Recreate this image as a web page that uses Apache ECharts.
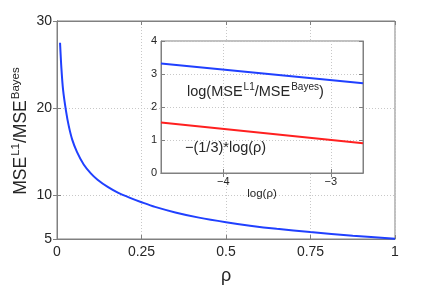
<!DOCTYPE html>
<html>
<head>
<meta charset="utf-8">
<script src="https://cdn.jsdelivr.net/npm/echarts@6/dist/echarts.min.js"></script>
<style>html,body{margin:0;padding:0;background:#fff}#c{width:436px;height:290px}</style>
</head>
<body>
<div id="c"></div>
<script>
// Main curve: rho vs MSE^L1/MSE^Bayes
const rhoValues   = [0.009, 0.013, 0.018, 0.0266, 0.0346, 0.045, 0.059, 0.079, 0.10, 0.12, 0.15, 0.18, 0.216, 0.25, 0.29, 0.35, 0.42, 0.50, 0.571, 0.65, 0.749, 0.875, 1.0];
const ratioValues = [27.5, 24.6, 22.1, 19.7, 18.0, 16.4, 15.0, 13.55, 12.53, 11.8, 10.97, 10.32, 9.72, 9.22, 8.68, 8.05, 7.45, 6.92, 6.53, 6.17, 5.80, 5.38, 5.02];
// Inset: log(rho) vs log ratio and -(1/3)log(rho)
const insetLogRho   = [-4.58, -2.70];
const insetLogRatio = [3.32, 2.72];
const insetRefLine  = [1.53, 0.90];
// Tick labels
const mainXTicks  = [0, 0.25, 0.5, 0.75, 1];
const mainYTicks  = [5, 10, 20, 30];
const insetXTicks = [-4, -3];
const insetYTicks = [0, 1, 2, 3, 4];

const FONT = 'Liberation Sans';
const AX = '#808080';
const TXT = '#262626';
const GRIDC = '#c8c8c8';

const zip = (a, b) => a.map((v, i) => [v, b[i]]);

const chart = echarts.init(document.getElementById('c'), null, {renderer: 'canvas'});
chart.setOption({
  animation: false,
  backgroundColor: '#fff',
  grid: [
    {left: 57, top: 21, right: 41, bottom: 37, show: true, borderColor: AX, borderWidth: 1, backgroundColor: 'transparent', z: 0},
    {left: 161, top: 41, right: 73, bottom: 117, show: true, borderColor: AX, borderWidth: 1, backgroundColor: '#fff', z: 1}
  ],
  xAxis: [
    {type: 'value', gridIndex: 0, min: 0, max: 1, interval: 0.25, position: 'bottom',
     axisLine: {show: true, lineStyle: {color: AX}},
     axisTick: {show: true, inside: true, length: 4, lineStyle: {color: AX}},
     axisLabel: {color: TXT, fontFamily: FONT, fontSize: 14, margin: 6, customValues: mainXTicks,
       formatter: v => String(v)},
     splitLine: {show: true, lineStyle: {type: [1, 2], color: GRIDC}},
     name: 'ρ', nameLocation: 'middle', nameGap: 28, nameTextStyle: {color: TXT, fontFamily: FONT, fontSize: 18}},
    {type: 'value', gridIndex: 0, min: 0, max: 1, interval: 0.25, position: 'top',
     axisLine: {show: true, lineStyle: {color: AX}},
     axisTick: {show: true, inside: true, length: 4, lineStyle: {color: AX}},
     axisLabel: {show: false}, splitLine: {show: false}},
    {type: 'value', gridIndex: 1, min: insetLogRho[0], max: insetLogRho[insetLogRho.length - 1], position: 'bottom', z: 3,
     axisLine: {show: true, lineStyle: {color: AX}},
     axisTick: {show: true, inside: true, length: 4, customValues: insetXTicks, lineStyle: {color: AX}},
     axisLabel: {color: TXT, fontFamily: FONT, fontSize: 11, margin: 3, customValues: insetXTicks,
       formatter: v => (v < 0 ? '\u2212' + Math.abs(v) : String(v))},
     splitLine: {show: true, lineStyle: {type: [1, 2], color: GRIDC}},
     name: 'log(ρ)', nameLocation: 'middle', nameGap: 14, nameTextStyle: {color: TXT, fontFamily: FONT, fontSize: 11.5}},
    {type: 'value', gridIndex: 1, min: insetLogRho[0], max: insetLogRho[insetLogRho.length - 1], position: 'top', z: 3,
     axisLine: {show: true, lineStyle: {color: AX}},
     axisTick: {show: true, inside: true, length: 4, customValues: insetXTicks, lineStyle: {color: AX}},
     axisLabel: {show: false}, splitLine: {show: false}}
  ],
  yAxis: [
    {type: 'value', gridIndex: 0, min: 5, max: 30, interval: 5, position: 'left',
     axisLine: {show: true, lineStyle: {color: AX}},
     axisTick: {show: true, inside: true, length: 4, customValues: mainYTicks, lineStyle: {color: AX}},
     axisLabel: {color: TXT, fontFamily: FONT, fontSize: 14, margin: 5, customValues: mainYTicks},
     splitLine: {show: true, lineStyle: {type: [1, 2], color: GRIDC}}},
    {type: 'value', gridIndex: 0, min: 5, max: 30, interval: 5, position: 'right',
     axisLine: {show: true, lineStyle: {color: AX}},
     axisTick: {show: true, inside: true, length: 4, customValues: mainYTicks, lineStyle: {color: AX}},
     axisLabel: {show: false}, splitLine: {show: false}},
    {type: 'value', gridIndex: 1, min: 0, max: 4, interval: 1, position: 'left', z: 3,
     axisLine: {show: true, lineStyle: {color: AX}},
     axisTick: {show: true, inside: true, length: 4, lineStyle: {color: AX}},
     axisLabel: {color: TXT, fontFamily: FONT, fontSize: 11, margin: 4, customValues: insetYTicks},
     splitLine: {show: true, lineStyle: {type: [1, 2], color: GRIDC}}},
    {type: 'value', gridIndex: 1, min: 0, max: 4, interval: 1, position: 'right', z: 3,
     axisLine: {show: true, lineStyle: {color: AX}},
     axisTick: {show: true, inside: true, length: 4, lineStyle: {color: AX}},
     axisLabel: {show: false}, splitLine: {show: false}}
  ],
  series: [
    {type: 'line', xAxisIndex: 0, yAxisIndex: 0, data: zip(rhoValues, ratioValues),
     smooth: 0.3, showSymbol: false, lineStyle: {color: '#2040ff', width: 2}},
    {type: 'line', xAxisIndex: 2, yAxisIndex: 2, data: zip(insetLogRho, insetLogRatio), z: 4,
     showSymbol: false, lineStyle: {color: '#2040ff', width: 2}},
    {type: 'line', xAxisIndex: 2, yAxisIndex: 2, data: zip(insetLogRho, insetRefLine), z: 4,
     showSymbol: false, lineStyle: {color: '#ff2020', width: 2}}
  ],
  graphic: [
    {type: 'text', x: 22, y: 131, rotation: Math.PI / 2, z: 10,
     style: {text: '{m|MSE}{s|L1}{m|/MSE}{s|Bayes}', align: 'center', verticalAlign: 'middle',
       rich: {
         m: {fontFamily: FONT, fontSize: 17.5, lineHeight: 17, verticalAlign: 'bottom', fill: TXT},
         s: {fontFamily: FONT, fontSize: 11.5, lineHeight: 11, verticalAlign: 'bottom', padding: [0, 0, 9, 1], fill: TXT}
       }}},
    {type: 'text', x: 187, y: 92, z: 10,
     style: {text: '{m|log(MSE}{s|L1}{m|/MSE}{s|Bayes}{m|)}', align: 'left', verticalAlign: 'middle',
       rich: {
         m: {fontFamily: FONT, fontSize: 14.5, lineHeight: 14, verticalAlign: 'bottom', fill: TXT},
         s: {fontFamily: FONT, fontSize: 10, lineHeight: 10, verticalAlign: 'bottom', padding: [0, 0, 7, 1], fill: TXT}
       }}},
    {type: 'text', x: 185, y: 148, z: 10,
     style: {text: '\u2212(1/3)*log(ρ)', align: 'left', verticalAlign: 'middle',
       fontFamily: FONT, fontSize: 14.5, fill: TXT}}
  ]
});
</script>
</body>
</html>
